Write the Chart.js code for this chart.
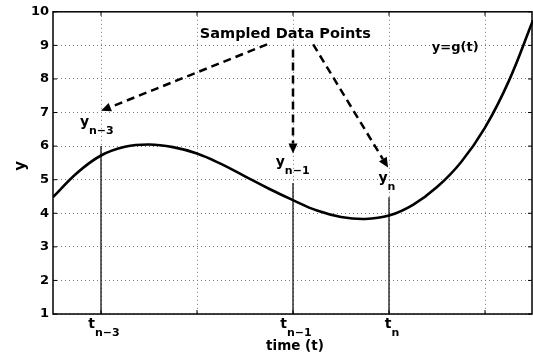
<!DOCTYPE html>
<html><head><meta charset="utf-8">
<script src="https://cdn.jsdelivr.net/npm/chart.js@4/dist/chart.umd.min.js"></script>
<style>html,body{margin:0;padding:0;background:#fff}#wrap{width:533px;height:358px;position:relative}</style>
</head><body><div id="wrap"><canvas id="c"></canvas></div>
<script>
// curve y = g(t)
const curveT = [0,0.25,0.5,0.75,1,1.25,1.5,1.75,2,2.25,2.5,2.75,3,3.25,3.5,3.75,4,4.25,4.5,4.75,5];
const curveY = [4.48,5.2,5.72,5.98,6.05,5.97,5.78,5.47,5.1,4.73,4.39,4.08,3.89,3.83,3.93,4.25,4.78,5.52,6.55,7.95,9.75];
// sampled points (vertical lines)
const sampleT = [0.5, 2.5, 3.5];
const sampleTop = [6.0, 4.9, 4.48];
const sampleSub = ['n\u22123', 'n\u22121', 'n'];
// label anchors for y_k labels (data coords)
const yLabelT = [0.28, 2.32, 3.39];
const yLabelY = [6.6, 5.42, 4.92];
// dashed arrows
const arrowFromT = [2.23, 2.5, 2.71];
const arrowFromY = [9.03, 8.88, 9.03];
const arrowToT = [0.5, 2.5, 3.49];
const arrowToY = [7.05, 5.78, 5.36];
// grid ticks
const xGridTicks = [0.5, 1.5, 2.5, 3.5, 4.5];
const yTicks = [1,2,3,4,5,6,7,8,9,10];
const titleText = 'Sampled Data Points';
const titlePos = [2.42, 9.23];
const funcText = 'y=g(t)';
const funcPos = [4.19, 8.82];

const F = '"DejaVu Sans", sans-serif';

function drawSub(ctx, x, y, main, sub, ms, ss, drop, center) {
  ctx.font = 'bold ' + ms + 'px ' + F;
  const w1 = ctx.measureText(main).width;
  ctx.font = 'bold ' + ss + 'px ' + F;
  const w2 = ctx.measureText(sub).width;
  const x0 = center ? x - (w1 + w2) / 2 : x;
  ctx.textAlign = 'left';
  ctx.textBaseline = 'alphabetic';
  ctx.font = 'bold ' + ms + 'px ' + F;
  ctx.fillText(main, x0, y);
  ctx.font = 'bold ' + ss + 'px ' + F;
  ctx.fillText(sub, x0 + w1, y + drop);
}

const annot = {
  id: 'annot',
  afterDatasetsDraw(chart) {
    const ctx = chart.ctx, xs = chart.scales.x, ys = chart.scales.y;
    const px = v => xs.getPixelForValue(v), py = v => ys.getPixelForValue(v);
    ctx.save();
    ctx.fillStyle = '#000';
    ctx.strokeStyle = '#000';
    // arrows
    for (let i = 0; i < arrowFromT.length; i++) {
      const x1 = px(arrowFromT[i]), y1 = py(arrowFromY[i]);
      const x2 = px(arrowToT[i]), y2 = py(arrowToY[i]);
      const ang = Math.atan2(y2 - y1, x2 - x1);
      const hl = 10, hw = 4.5;
      const bx = x2 - hl * Math.cos(ang), by = y2 - hl * Math.sin(ang);
      ctx.lineWidth = 2.5;
      ctx.setLineDash([8, 5]);
      ctx.beginPath(); ctx.moveTo(x1, y1); ctx.lineTo(bx, by); ctx.stroke();
      ctx.setLineDash([]);
      ctx.beginPath();
      ctx.moveTo(x2, y2);
      ctx.lineTo(bx + hw * Math.sin(ang), by - hw * Math.cos(ang));
      ctx.lineTo(bx - hw * Math.sin(ang), by + hw * Math.cos(ang));
      ctx.closePath(); ctx.fill();
    }
    // texts
    ctx.font = 'bold 14.5px ' + F;
    ctx.textAlign = 'center'; ctx.textBaseline = 'alphabetic';
    ctx.fillText(titleText, px(titlePos[0]), py(titlePos[1]));
    ctx.font = 'bold 13px ' + F;
    ctx.fillText(funcText, px(funcPos[0]), py(funcPos[1]));
    for (let i = 0; i < yLabelT.length; i++) {
      drawSub(ctx, px(yLabelT[i]), py(yLabelY[i]), 'y', sampleSub[i], 14, 11, 8, false);
    }
    ctx.restore();
  },
  afterDraw(chart) {
    const ctx = chart.ctx, a = chart.chartArea, xs = chart.scales.x, ys = chart.scales.y;
    ctx.save();
    ctx.strokeStyle = '#000'; ctx.fillStyle = '#000';
    ctx.lineWidth = 1.5;
    ctx.strokeRect(a.left, a.top, a.right - a.left - 1, a.bottom - a.top);
    ctx.lineWidth = 1;
    const tl = 4;
    ctx.beginPath();
    xGridTicks.forEach(v => {
      const x = xs.getPixelForValue(v);
      ctx.moveTo(x, a.bottom); ctx.lineTo(x, a.bottom - tl);
      ctx.moveTo(x, a.top); ctx.lineTo(x, a.top + tl);
    });
    yTicks.forEach(v => {
      const y = ys.getPixelForValue(v);
      ctx.moveTo(a.left, y); ctx.lineTo(a.left + tl, y);
      ctx.moveTo(a.right - 1, y); ctx.lineTo(a.right - 1 - tl, y);
    });
    ctx.stroke();
    // x tick labels with subscripts
    for (let i = 0; i < sampleT.length; i++) {
      drawSub(ctx, xs.getPixelForValue(sampleT[i]) + 3, a.bottom + 14, 't', sampleSub[i], 14, 11, 8, true);
    }
    // axis titles
    ctx.font = 'bold 13.5px ' + F;
    ctx.textAlign = 'center'; ctx.textBaseline = 'alphabetic';
    ctx.fillText('time (t)', xs.getPixelForValue(2.5) + 2, a.bottom + 36);
    ctx.save();
    ctx.translate(25, (a.top + a.bottom) / 2 + 3);
    ctx.rotate(-Math.PI / 2);
    ctx.font = 'bold 15px ' + F;
    ctx.fillText('y', 0, 0);
    ctx.restore();
    ctx.restore();
  }
};

const datasets = [{
  data: curveT.map((t, i) => ({x: t, y: curveY[i]})),
  borderColor: '#000', borderWidth: 2.6, pointRadius: 0,
  tension: 0.4, fill: false
}];
sampleT.forEach((t, i) => {
  datasets.push({
    data: [{x: t, y: 1}, {x: t, y: sampleTop[i]}],
    borderColor: '#000', borderWidth: 1.2, pointRadius: 0, fill: false
  });
});

new Chart(document.getElementById('c'), {
  type: 'line',
  data: {datasets},
  plugins: [annot],
  options: {
    responsive: true, maintainAspectRatio: false, animation: false,
    layout: {padding: {top: 10, right: 0, left: 0, bottom: 0}},
    plugins: {legend: {display: false}, tooltip: {enabled: false}},
    scales: {
      x: {
        type: 'linear', min: 0, max: 5,
        afterBuildTicks: s => { s.ticks = xGridTicks.map(v => ({value: v})); },
        afterFit: s => { s.height = 44; },
        ticks: {display: false},
        grid: {color: '#777', lineWidth: 1, drawTicks: false},
        border: {display: false, dash: [1, 3]}
      },
      y: {
        min: 1, max: 10,
        afterBuildTicks: s => { s.ticks = yTicks.map(v => ({value: v})); },
        afterFit: s => { s.width = 53; },
        ticks: {color: '#000', padding: 4, font: {family: 'DejaVu Sans', weight: 'bold', size: 13}},
        grid: {color: '#777', lineWidth: 1, drawTicks: false},
        border: {display: false, dash: [1, 3]}
      }
    }
  }
});
</script>
</body></html>
